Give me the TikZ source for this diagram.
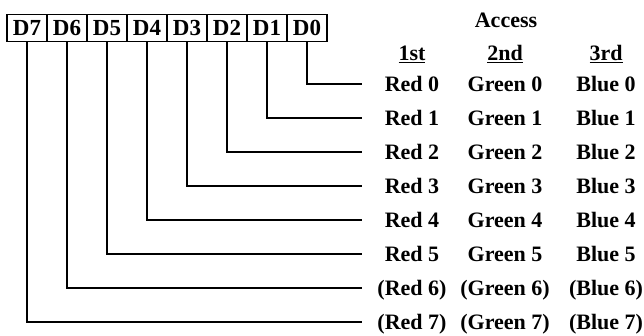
\documentclass[tikz,border=0pt]{standalone}
\usepackage{fontspec}
\setmainfont{Liberation Serif}
\usetikzlibrary{positioning}

\begin{document}
\begin{tikzpicture}[
  x=1pt, y=-1pt,
  bit/.style={
    rectangle, draw, line width=1.8pt,
    minimum width=40pt, minimum height=27pt,
    inner sep=0pt, outer sep=0pt,
    font=\fontsize{23}{26}\selectfont\bfseries
  },
  entry/.style={inner sep=0pt, text height=15pt, text depth=0pt,
    font=\fontsize{22}{26}\selectfont\bfseries},
  wire/.style={draw, line width=2.6pt}
]
  \useasboundingbox (0,0) rectangle (644,336);

  % data bits
  \node [bit] (d7) at (27,28) {D7};
  \node [bit, right=0pt of d7] (d6) {D6};
  \node [bit, right=0pt of d6] (d5) {D5};
  \node [bit, right=0pt of d5] (d4) {D4};
  \node [bit, right=0pt of d4] (d3) {D3};
  \node [bit, right=0pt of d3] (d2) {D2};
  \node [bit, right=0pt of d2] (d1) {D1};
  \node [bit, right=0pt of d1] (d0) {D0};

  % access order
  \node [entry] (access) at (506,20) {Access};
  \node [entry] (first) at (412,53) {\underline{1st}};
  \node [entry] (second) at (505,53) {\underline{2nd}};
  \node [entry] (third) at (606,53) {\underline{3rd}};

  \node [entry] (red0) at (412,84) {Red 0};
  \node [entry] (green0) at (505,84) {Green 0};
  \node [entry] (blue0) at (606,84) {Blue 0};
  \node [entry] (red1) at (412,118) {Red 1};
  \node [entry] (green1) at (505,118) {Green 1};
  \node [entry] (blue1) at (606,118) {Blue 1};
  \node [entry] (red2) at (412,152) {Red 2};
  \node [entry] (green2) at (505,152) {Green 2};
  \node [entry] (blue2) at (606,152) {Blue 2};
  \node [entry] (red3) at (412,186) {Red 3};
  \node [entry] (green3) at (505,186) {Green 3};
  \node [entry] (blue3) at (606,186) {Blue 3};
  \node [entry] (red4) at (412,220) {Red 4};
  \node [entry] (green4) at (505,220) {Green 4};
  \node [entry] (blue4) at (606,220) {Blue 4};
  \node [entry] (red5) at (412,254) {Red 5};
  \node [entry] (green5) at (505,254) {Green 5};
  \node [entry] (blue5) at (606,254) {Blue 5};
  \node [entry] (red6) at (412,288) {(Red 6)};
  \node [entry] (green6) at (505,288) {(Green 6)};
  \node [entry] (blue6) at (606,288) {(Blue 6)};
  \node [entry] (red7) at (412,322) {(Red 7)};
  \node [entry] (green7) at (505,322) {(Green 7)};
  \node [entry] (blue7) at (606,322) {(Blue 7)};

  % wire ends
  \coordinate (e0) at (362,84);
  \coordinate (e1) at (362,118);
  \coordinate (e2) at (362,152);
  \coordinate (e3) at (362,186);
  \coordinate (e4) at (362,220);
  \coordinate (e5) at (362,254);
  \coordinate (e6) at (362,288);
  \coordinate (e7) at (362,322);

  \path [wire] (d0.south) |- (e0);
  \path [wire] (d1.south) |- (e1);
  \path [wire] (d2.south) |- (e2);
  \path [wire] (d3.south) |- (e3);
  \path [wire] (d4.south) |- (e4);
  \path [wire] (d5.south) |- (e5);
  \path [wire] (d6.south) |- (e6);
  \path [wire] (d7.south) |- (e7);

\end{tikzpicture}
\end{document}
